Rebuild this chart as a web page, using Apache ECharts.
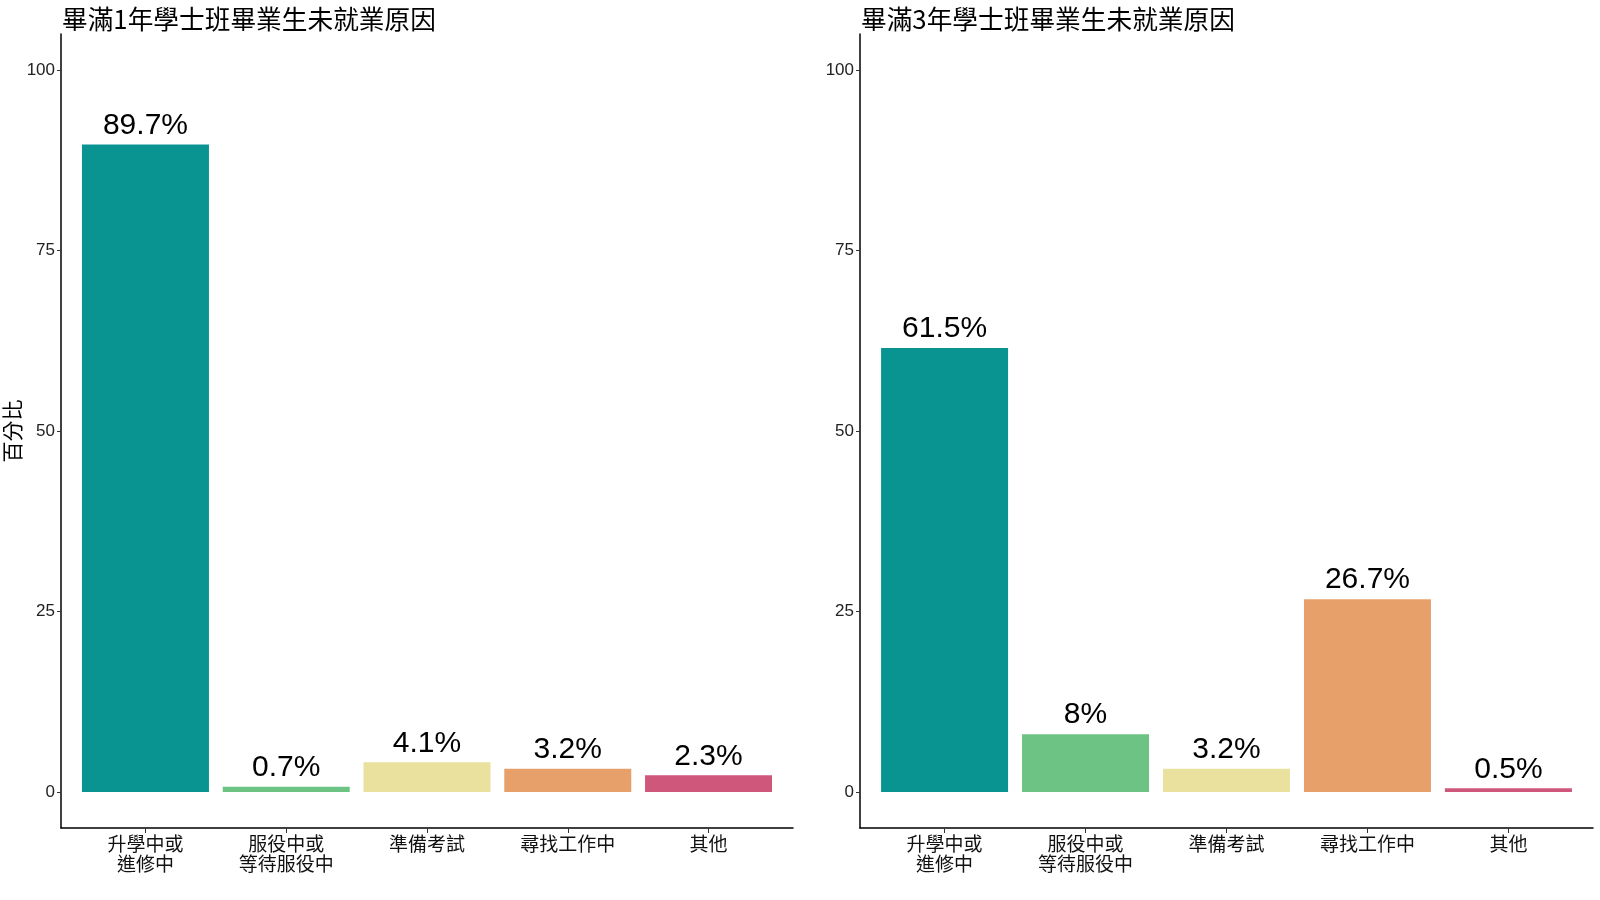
<!DOCTYPE html>
<html>
<head>
<meta charset="utf-8">
<script src="https://cdn.jsdelivr.net/npm/echarts@6/dist/echarts.min.js"></script>
<style>
  html, body { margin: 0; padding: 0; background: #fff; }
  #chart { width: 1600px; height: 900px; }
</style>
</head>
<body>
<div id="chart"></div>
<script>
// 資料
const categories = ['升學中或\n進修中', '服役中或\n等待服役中', '準備考試', '尋找工作中', '其他']
const year1Values = [89.7, 0.7, 4.1, 3.2, 2.3]
const year3Values = [61.5, 8, 3.2, 26.7, 0.5]
const yTicks = [0, 25, 50, 75, 100]
const titles = ['畢滿1年學士班畢業生未就業原因', '畢滿3年學士班畢業生未就業原因']
const barColors = ['#099491', '#6dc383', '#e9e19d', '#e8a06b', '#cf577b']

const cjk = '"Noto Sans CJK TC", "Noto Sans CJK SC", sans-serif'
const latin = '"Liberation Sans", Arial, sans-serif'
const xPositions = categories.map((c, i) => i + 1)

const makeSeries = (values, idx) => ({
  type: 'bar',
  xAxisIndex: idx,
  yAxisIndex: idx,
  barWidth: 127,
  animation: false,
  data: values.map((v, i) => ({
    value: [i + 1, v],
    itemStyle: { color: barColors[i] }
  })),
  label: {
    show: true,
    position: 'top',
    distance: 4,
    color: '#000',
    fontFamily: latin,
    fontSize: 30,
    formatter: p => p.value[1] + '%'
  }
})

const makeX = idx => ({
  type: 'value',
  gridIndex: idx,
  min: 0.4,
  max: 5.6,
  splitLine: { show: false },
  axisLine: { show: true, onZero: false, lineStyle: { color: '#000', width: 1.5 } },
  axisTick: { show: true, length: 5, customValues: xPositions, lineStyle: { color: '#333' } },
  axisLabel: {
    customValues: xPositions,
    formatter: v => categories[Math.round(v) - 1] || '',
    color: '#111',
    fontFamily: cjk,
    fontSize: 19,
    lineHeight: 20,
    margin: 6
  }
})

const makeY = idx => ({
  type: 'value',
  gridIndex: idx,
  min: -5,
  max: 105,
  name: idx === 0 ? '百分比' : '',
  nameLocation: 'middle',
  nameRotate: 90,
  nameGap: 36,
  nameTextStyle: { fontFamily: cjk, fontSize: 21, color: '#000' },
  splitLine: { show: false },
  axisLine: { show: true, lineStyle: { color: '#000', width: 1.5 } },
  axisTick: { show: true, length: 4, customValues: yTicks, lineStyle: { color: '#333' } },
  axisLabel: {
    customValues: yTicks,
    color: '#222',
    fontFamily: latin,
    fontSize: 17,
    margin: 6
  }
})

const chart = echarts.init(document.getElementById('chart'))
chart.setOption({
  animation: false,
  title: [
    { text: titles[0], left: 57, top: 1, textStyle: { fontFamily: cjk, fontSize: 25.7, fontWeight: 'normal', color: '#000' } },
    { text: titles[1], left: 856, top: 1, textStyle: { fontFamily: cjk, fontSize: 25.7, fontWeight: 'normal', color: '#000' } }
  ],
  grid: [
    { left: 61, width: 732, top: 34, bottom: 72 },
    { left: 860, right: 7, top: 34, bottom: 72 }
  ],
  xAxis: [makeX(0), makeX(1)],
  yAxis: [makeY(0), makeY(1)],
  series: [makeSeries(year1Values, 0), makeSeries(year3Values, 1)]
})
</script>
</body>
</html>
